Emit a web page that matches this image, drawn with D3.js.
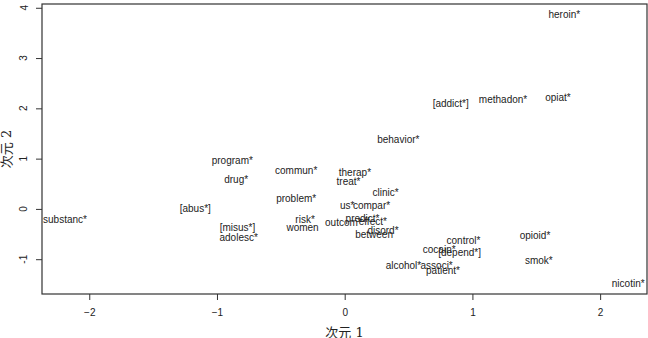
<!DOCTYPE html>
<html>
<head>
<meta charset="utf-8">
<script src="https://cdn.jsdelivr.net/npm/d3@7"></script>
<style>
  body { margin: 0; background: #fff; }
  svg { display: block; }
  text { font-family: "Liberation Sans", Arial, sans-serif; fill: #222; }
</style>
</head>
<body>
<svg id="chart"></svg>
<script>
/* term coordinates (MDS dimension 1 / dimension 2) */
var terms = ["heroin*", "[addict*]", "methadon*", "opiat*", "behavior*",
  "program*", "drug*", "commun*", "therap*", "treat*", "clinic*", "problem*",
  "us*", "compar*", "[abus*]", "substanc*", "risk*", "women", "outcom*",
  "predict*", "effect*", "[misus*]", "adolesc*", "disord*", "between",
  "control*", "cocain*", "[depend*]", "opioid*", "smok*", "alcohol*",
  "associ*", "patient*", "nicotin*"];
var dim1 = [1.72, 0.83, 1.24, 1.67, 0.42,
  -0.88, -0.85, -0.38, 0.08, 0.03, 0.32, -0.38,
  0.02, 0.21, -1.17, -2.19, -0.31, -0.33, -0.01,
  0.14, 0.22, -0.84, -0.83, 0.30, 0.23,
  0.93, 0.74, 0.90, 1.49, 1.52, 0.46,
  0.72, 0.77, 2.22];
var dim2 = [3.86, 2.09, 2.17, 2.21, 1.39,
  0.97, 0.59, 0.76, 0.73, 0.54, 0.32, 0.21,
  0.06, 0.06, 0.01, -0.22, -0.21, -0.37, -0.27,
  -0.20, -0.26, -0.37, -0.57, -0.42, -0.50,
  -0.62, -0.80, -0.86, -0.53, -1.02, -1.13,
  -1.13, -1.22, -1.48];
var xTicks = [-2, -1, 0, 1, 2];
var yTicks = [-1, 0, 1, 2, 3, 4];
var xLabel = "次元 1",
    yLabel = "次元 2";

var width = 648, height = 338,
    margin = { top: 4, right: 1, bottom: 44, left: 42 };

var svg = d3.select("#chart")
    .attr("width", width)
    .attr("height", height);

var innerWidth = width - margin.left - margin.right,
    innerHeight = height - margin.top - margin.bottom;

var xScale = d3.scaleLinear().domain([-2.37, 2.367]).range([0, innerWidth]);
var yScale = d3.scaleLinear().domain([-1.692, 4.075]).range([innerHeight, 0]);

var g = svg.append("g")
    .attr("transform", "translate(" + margin.left + "," + margin.top + ")");

/* axes, R style: ticks outside, y labels turned */
var xAxis = d3.axisBottom(xScale).tickValues(xTicks).tickSize(6).tickPadding(9)
    .tickFormat(d3.format("d"));
var yAxis = d3.axisLeft(yScale).tickValues(yTicks).tickSize(6)
    .tickFormat("");

var xAxisG = g.append("g")
    .attr("transform", "translate(0," + innerHeight + ")")
    .call(xAxis);
xAxisG.select(".domain").remove();
xAxisG.selectAll("line").attr("stroke", "#333");
xAxisG.selectAll("text")
    .style("font-size", "10px")
    .style("font-family", "Liberation Sans, Arial, sans-serif")
    .attr("fill", "#222");

var yAxisG = g.append("g").call(yAxis);
yAxisG.select(".domain").remove();
yAxisG.selectAll("line").attr("stroke", "#333");

// rotated tick labels, centred 18px left of the frame
g.append("g").selectAll("text")
    .data(yTicks)
    .enter().append("text")
    .attr("x", -18)
    .attr("y", function (d) { return yScale(d); })
    .attr("dy", "0.35em")
    .attr("transform", function (d) { return "rotate(-90," + (-18) + "," + yScale(d) + ")"; })
    .attr("text-anchor", "middle")
    .style("font-size", "10px")
    .text(function (d) { return d; });

/* frame */
g.append("rect")
    .attr("x", 0).attr("y", 0)
    .attr("width", innerWidth).attr("height", innerHeight)
    .attr("fill", "none")
    .attr("stroke", "#333")
    .attr("stroke-width", 1.2);

/* term labels */
var data = terms.map(function (t, i) { return { term: t, x: dim1[i], y: dim2[i] }; });

g.append("g").selectAll("text")
    .data(data)
    .enter().append("text")
    .attr("x", function (d) { return xScale(d.x); })
    .attr("y", function (d) { return yScale(d.y); })
    .attr("text-anchor", "middle")
    .attr("dominant-baseline", "central")
    .style("font-size", "10px")
    .text(function (d) { return d.term; });

/* axis titles */
svg.append("text")
    .attr("x", margin.left + innerWidth / 2)
    .attr("y", 332)
    .attr("text-anchor", "middle")
    .attr("dominant-baseline", "central")
    .style("font-family", "DejaVu Serif, Noto Sans CJK JP, serif")
    .style("font-size", "13px")
    .text(xLabel);

svg.append("text")
    .attr("transform", "translate(6," + (margin.top + innerHeight / 2) + ") rotate(-90)")
    .attr("text-anchor", "middle")
    .attr("dominant-baseline", "central")
    .style("font-family", "DejaVu Serif, Noto Sans CJK JP, serif")
    .style("font-size", "13px")
    .text(yLabel);
</script>
</body>
</html>
